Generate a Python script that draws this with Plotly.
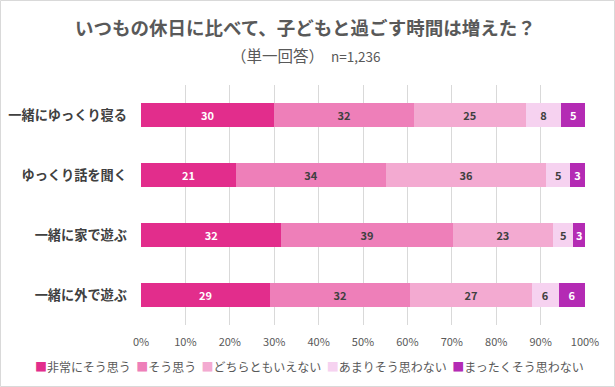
import plotly.graph_objects as go

categories = ["一緒にゆっくり寝る", "ゆっくり話を聞く", "一緒に家で遊ぶ", "一緒に外で遊ぶ"]
series_names = ["非常にそう思う", "そう思う", "どちらともいえない", "あまりそう思わない", "まったくそう思わない"]
v_very = [29.9, 21.4, 31.6, 29.0]
v_agree = [31.6, 33.8, 38.6, 31.6]
v_neutral = [25.1, 36.1, 22.6, 27.4]
v_not_much = [8.1, 5.3, 4.6, 6.1]
v_not_at_all = [5.3, 3.4, 2.6, 5.9]
tick_vals = [0, 10, 20, 30, 40, 50, 60, 70, 80, 90, 100]
tick_text = ["0%", "10%", "20%", "30%", "40%", "50%", "60%", "70%", "80%", "90%", "100%"]

colors = ["#E22D8C", "#EE7FB9", "#F3AAD1", "#F6D2F0", "#B42BB4"]
text_colors = ["#FFFFFF", "#404040", "#404040", "#404040", "#FFFFFF"]
values = [v_very, v_agree, v_neutral, v_not_much, v_not_at_all]

FONT = "Noto Sans CJK JP"
fig = go.Figure()
for name, vals, c, tc in zip(series_names, values, colors, text_colors):
    fig.add_trace(go.Bar(
        y=categories, x=vals, name=name, orientation="h",
        marker=dict(color=c, line=dict(width=0)),
        texttemplate="%{x:.0f}", textposition="inside", insidetextanchor="middle",
        textangle=0,
        textfont=dict(color=tc, size=11, family=FONT, weight="bold"),
        constraintext="none",
        hoverinfo="skip",
    ))

W, H = 615, 387
ml, mr, mt, mb = 141, 30, 85, 62
pw, ph = W - ml - mr, H - mt - mb

fig.update_layout(
    width=W, height=H, barmode="stack", bargap=0.6,
    margin=dict(l=ml, r=mr, t=mt, b=mb, autoexpand=False),
    paper_bgcolor="white", plot_bgcolor="white",
    font=dict(family=FONT, color="#595959"),
    uniformtext=dict(minsize=8, mode="show"),
    xaxis=dict(range=[0, 100], tickvals=tick_vals, ticktext=tick_text,
               showgrid=True, gridcolor="#D9D9D9", gridwidth=1,
               zeroline=False, showline=False, ticks="", ticklabelstandoff=9,
               tickfont=dict(size=11, color="#595959", family=FONT), fixedrange=True),
    yaxis=dict(autorange="reversed", showgrid=False, showline=False, ticks="",
               ticklabelstandoff=13,
               tickfont=dict(size=13.2, color="#404040", family=FONT, weight="bold")),
    showlegend=False,
)

# title and subtitle
cx = (W / 2 - 2 - ml) / pw
fig.add_annotation(text="<b>いつもの休日に比べて、子どもと過ごす時間は増えた？</b>",
                   xref="paper", yref="paper", x=cx, y=1 + (mt - 27) / ph,
                   xanchor="center", yanchor="middle", showarrow=False,
                   font=dict(size=18.5, color="#595959", family=FONT))
fig.add_annotation(text="（単一回答）  <span style='font-size:13.5px'>n=1,236</span>",
                   xref="paper", yref="paper", x=cx, y=1 + (mt - 55) / ph,
                   xanchor="center", yanchor="middle", showarrow=False,
                   font=dict(size=15.5, color="#595959", family=FONT))

# legend built from series names and colours
legend_html = "  ".join(
    f"<span style='color:{c}'>■</span>{n}" for n, c in zip(series_names, colors)
)
fig.add_annotation(text=legend_html, xref="paper", yref="paper",
                   x=(W / 2 + 2 - ml) / pw, y=-(366 - (H - mb)) / ph,
                   xanchor="center", yanchor="middle", showarrow=False,
                   font=dict(size=12, color="#595959", family=FONT))

# outer border
fig.add_shape(type="rect", xref="paper", yref="paper",
              x0=(-ml + 0.5) / pw, x1=1 + (mr - 0.5) / pw,
              y0=(-mb + 0.5) / ph, y1=1 + (mt - 0.5) / ph,
              line=dict(color="#D9D9D9", width=1), fillcolor="rgba(0,0,0,0)", layer="below")

fig.write_html("out.html", config={"displayModeBar": False},
               post_script="document.body.style.margin='0';")
